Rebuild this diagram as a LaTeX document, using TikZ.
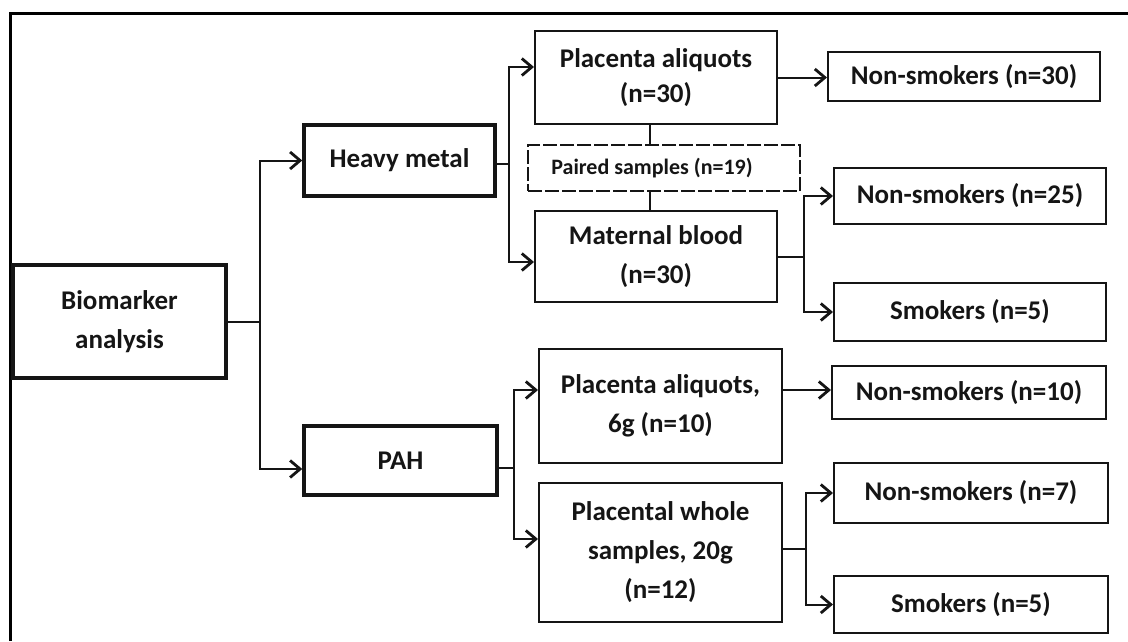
\documentclass[tikz,border=0pt]{standalone}
\usepackage{fontspec}
\setmainfont{Carlito}
\usetikzlibrary{arrows.meta,calc}
\definecolor{ink}{HTML}{151515}
\tikzset{
  line/.style={draw=ink, line width=2pt},
  arr/.style={line, -{Straight Barb[length=10pt,width=17pt,line width=2.8pt]}},
  box/.style={draw=ink, line width=2pt, inner sep=0pt, align=center,
    font=\fontsize{27}{39}\selectfont\bfseries, text=ink},
  bigbox/.style={box, line width=3.5pt},
  dashbox/.style={draw=ink, line width=2pt, dash pattern=on 14pt off 3pt, inner sep=0pt},
  smalltext/.style={inner sep=0pt, font=\fontsize{22}{26}\selectfont\bfseries, text=ink},
  frame/.style={draw=black, line width=3pt}
}
\begin{document}
\begin{tikzpicture}[x=1pt,y=-1pt]
\useasboundingbox (0,0) rectangle (1128,641);
% outer frame
\draw[frame] (10,641) -- (10,13) -- (1128,13);

% first level
\node[bigbox, minimum width=213, minimum height=113] (bio) at (119.5,321.5) {Biomarker\\analysis};
\node[bigbox, minimum width=191, minimum height=71] (hm) at (399.5,160.5) {Heavy metal};
\node[bigbox, minimum width=193, minimum height=69] (pah) at (400.5,460.5) {PAH};

% heavy metal branch
\node[box, minimum width=242, minimum height=93, font=\fontsize{27}{35}\selectfont\bfseries] (pa30) at (656,77.5) {Placenta aliquots\\(n=30)};
\node[box, minimum width=272, minimum height=49] (ns30) at (964,76.5) {Non-smokers (n=30)};
\node[dashbox, minimum width=272, minimum height=46] (pair) at (664,168) {};
\node[smalltext] (pairtext) at (652,168) {Paired samples (n=19)};
\node[box, minimum width=242, minimum height=91] (mb) at (656,256.5) {Maternal blood\\(n=30)};
\node[box, minimum width=272, minimum height=56] (ns25) at (970,196) {Non-smokers (n=25)};
\node[box, minimum width=272, minimum height=58] (sm5a) at (970,312) {Smokers (n=5)};

% PAH branch
\node[box, minimum width=243, minimum height=114] (pa10) at (660.5,406) {Placenta aliquots,\\6g (n=10)};
\node[box, minimum width=274, minimum height=53] (ns10) at (969,392.5) {Non-smokers (n=10)};
\node[box, minimum width=243, minimum height=139] (pw) at (660.5,552.5) {Placental whole\\samples, 20g\\(n=12)};
\node[box, minimum width=274, minimum height=60] (ns7) at (971,493) {Non-smokers (n=7)};
\node[box, minimum width=274, minimum height=57] (sm5b) at (971,604.5) {Smokers (n=5)};

% connectors from the root
\coordinate (bj) at (260,321.5);
\draw[line] (bio.east) -- (bj);
\draw[arr] (bj) |- (hm.west);
\draw[arr] (bj) |- ($(pah.west)+(0,8.5)$);

% heavy metal connectors
\coordinate (hj) at (509,164);
\draw[line] ($(hm.east)+(0,3.5)$) -- (hj);
\draw[arr] (hj) |- ($(pa30.west)+(0,-10.5)$);
\draw[arr] (hj) |- ($(mb.west)+(0,5.5)$);
\draw[arr] (pa30.east) -- (pa30.east -| ns30.west);
\draw[line] ([xshift=-6pt]pa30.south) -- ([xshift=-6pt]pa30.south |- pair.north);
\draw[line] ([xshift=-14pt]pair.south) -- ([xshift=-14pt]pair.south |- mb.north);
\coordinate (mj) at (804,256.5);
\draw[line] (mb.east) -- (mj);
\draw[arr] (mj) |- (ns25.west);
\draw[arr] (mj) |- (sm5a.west);

% PAH connectors
\coordinate (pj) at (514,468);
\draw[line] ($(pah.east)+(0,7.5)$) -- (pj);
\draw[arr] (pj) |- ($(pa10.west)+(0,-16)$);
\draw[arr] (pj) |- ($(pw.west)+(0,-13.5)$);
\draw[arr] ($(pa10.east)+(0,-16)$) coordinate (pa10out) -- (pa10out -| ns10.west);
\coordinate (wj) at (806,549);
\draw[line] (pw.east |- wj) -- (wj);
\draw[arr] (wj) |- (ns7.west);
\draw[arr] (wj) |- (sm5b.west);
\end{tikzpicture}
\end{document}
